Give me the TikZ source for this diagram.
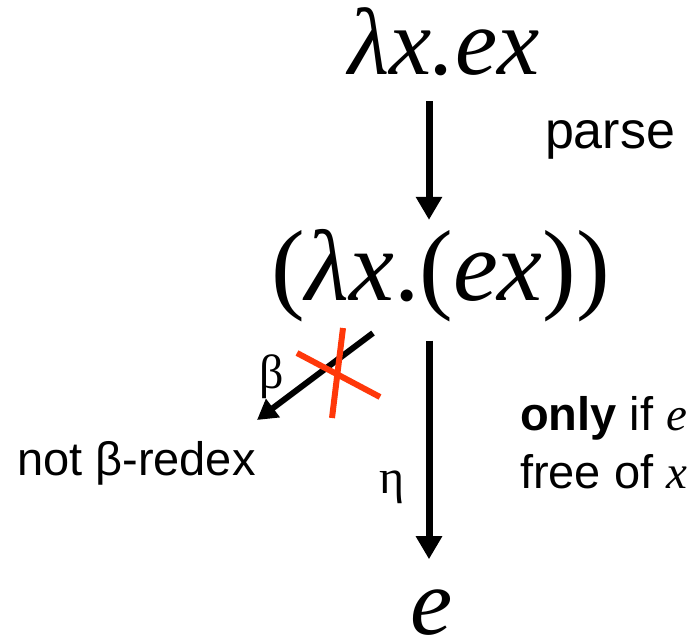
\documentclass[tikz,border=0pt]{standalone}
\usepackage{fontspec}
\setmainfont{Liberation Serif}
\setsansfont{Liberation Sans}
\usepackage{xcolor}
\usetikzlibrary{positioning,arrows.meta}
\definecolor{CrossRed}{RGB}{255,56,10}

\begin{document}
\begin{tikzpicture}[
  x=1pt, y=-1pt,
  inner sep=0pt, outer sep=0pt,
  term/.style={anchor=base, font=\fontsize{95}{100}\selectfont\itshape},
  note/.style={anchor=base west, font=\fontsize{47}{54}\selectfont\sffamily},
  greek/.style={anchor=base, font=\fontsize{48}{54}\selectfont\rmfamily},
  arrow/.style={-{Triangle[length=23pt,width=25pt]}, line width=7pt},
  smallarrow/.style={-{Triangle[length=20pt,width=22pt]}, line width=6pt},
  cross/.style={draw=CrossRed, line width=6pt}
]
\useasboundingbox (0,0) rectangle (697,643);
\coordinate (axis) at (429,0);

\node[term] (lam) at (444,74) {λx.ex};
\node[term, font=\fontsize{101}{106}\selectfont\itshape] (parsed) at (441,300) {\upshape(\itshape λx\upshape.(\itshape ex\upshape))};
\node[term] (ee) at (432,634) {e};

\node[note, font=\fontsize{52}{58}\selectfont\sffamily] (parse) at (545,148) {parse};
\node[note] (notbeta) at (17,475) {not β-redex};
\node[note] (only) at (520,430) {\textbf{only} if \textrm{\itshape e}};
\node[note] (freeof) at (520,488) {free of \textrm{\itshape x}};
\node[greek] (blab) at (272,388) {β};
\node[greek] (elab) at (392,493) {η};

\coordinate (bstart) at (373,333);
\coordinate (btip) at (257,420);

\draw[arrow, shorten <=26pt, shorten >=9pt] (lam.south -| axis) -- (parsed.north -| axis);
\draw[arrow, shorten <=19pt, shorten >=30pt] (parsed.south -| axis) -- (ee.north -| axis);
\draw[smallarrow] (bstart) -- (btip);

% the cross over the beta step
\draw[cross] (297,353) -- (380,397);
\draw[cross] (343,328) -- (332,418);
\end{tikzpicture}
\end{document}
